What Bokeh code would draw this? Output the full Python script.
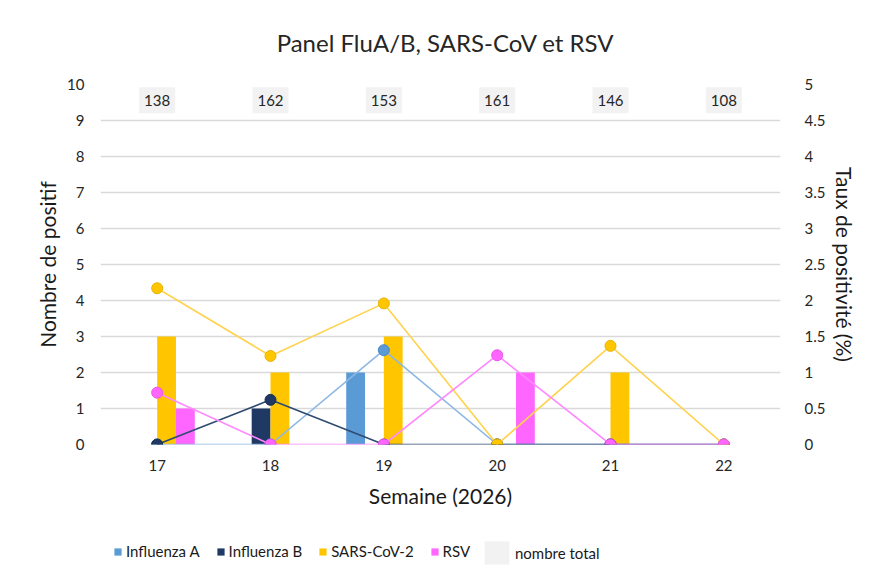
from bokeh.plotting import figure
from bokeh.layouts import column
from bokeh.models import (Range1d, LinearAxis, FixedTicker, ColumnDataSource, Legend,
                          LegendItem, CustomJSTickFormatter, Label)
from bokeh.transform import dodge
from bokeh.core.properties import value
from bokeh.embed import file_html
from bokeh.resources import INLINE

# ---- data ----
weeks = [17, 18, 19, 20, 21, 22]
flu_a = [0, 0, 2, 0, 0, 0]
flu_b = [0, 1, 0, 0, 0, 0]
sars = [3, 2, 3, 0, 2, 0]
rsv = [1, 0, 0, 2, 0, 0]
totals = [138, 162, 153, 161, 146, 108]
rate_flu_a = [0, 0, 1.31, 0, 0, 0]
rate_flu_b = [0, 0.62, 0, 0, 0, 0]
rate_sars = [2.17, 1.23, 1.96, 0, 1.37, 0]
rate_rsv = [0.72, 0, 0, 1.24, 0, 0]
left_ticks = [0, 1, 2, 3, 4, 5, 6, 7, 8, 9, 10]
right_ticks = [0, 0.5, 1, 1.5, 2, 2.5, 3, 3.5, 4, 4.5, 5]
series_names = ["Influenza A", "Influenza B", "SARS-CoV-2", "RSV"]
total_label = "nombre total"
title_text = "Panel FluA/B, SARS-CoV et RSV"

FONT = "Lato"
C_FLUA = "#5B9BD5"
C_FLUB = "#1F3864"
C_SARS = "#FFC600"
C_RSV = "#FF66FF"
TXT = "#262626"

src = ColumnDataSource(dict(
    week=weeks, flu_a=flu_a, flu_b=flu_b, sars=sars, rsv=rsv,
    total=[str(t) for t in totals], total_y=[9.56] * len(weeks),
    r_a=rate_flu_a, r_b=rate_flu_b, r_s=rate_sars, r_r=rate_rsv,
))

W = 860
H_TITLE = 60
H_MAIN = 452
H_LEG = 60


def strip(height):
    f = figure(width=W, height=height, output_backend="svg", toolbar_location=None,
               x_range=Range1d(0, 1), y_range=Range1d(0, 1),
               x_axis_location=None, y_axis_location=None)
    f.min_border = 0
    f.min_border_left = 0
    f.min_border_right = 0
    f.min_border_top = 0
    f.min_border_bottom = 0
    f.outline_line_color = None
    f.xgrid.grid_line_color = None
    f.ygrid.grid_line_color = None
    f.background_fill_color = "white"
    f.border_fill_color = "white"
    return f


# ---- title strip ----
tt = strip(H_TITLE)
tt.add_layout(Label(x=0.5, y=0.3, text=title_text, text_align="center",
                    text_baseline="middle", x_offset=5, text_font=FONT,
                    text_font_size="24px", text_color=TXT))

# ---- main chart ----
p = figure(width=W, height=H_MAIN, output_backend="svg", toolbar_location=None,
           x_range=Range1d(16.5, 22.5), y_range=Range1d(0, 10))
p.extra_y_ranges = {"rate": Range1d(0, 5)}

p.min_border_left = 100
p.min_border_right = W - 787
p.min_border_top = 84 - H_TITLE
p.min_border_bottom = H_MAIN - (444 - H_TITLE)
p.outline_line_color = None
p.background_fill_color = "white"
p.border_fill_color = "white"

# grids
p.xgrid.grid_line_color = None
p.ygrid.grid_line_color = "#D9D9D9"
p.ygrid.grid_line_width = 1.5
p.ygrid.ticker = FixedTicker(ticks=left_ticks)


def style_axis(ax, label, tick_standoff, label_standoff):
    ax.axis_line_color = None
    ax.major_tick_line_color = None
    ax.minor_tick_line_color = None
    ax.major_label_standoff = tick_standoff
    ax.major_label_text_font = FONT
    ax.major_label_text_font_size = "15px"
    ax.major_label_text_color = TXT
    ax.axis_label = label
    ax.axis_label_text_font = FONT
    ax.axis_label_text_font_size = "21px"
    ax.axis_label_text_font_style = "normal"
    ax.axis_label_text_color = "#1a1a1a"
    ax.axis_label_standoff = label_standoff


xa = p.xaxis[0]
xa.ticker = FixedTicker(ticks=weeks)
style_axis(xa, "Semaine (2026)", 9, 9)

ya = p.yaxis[0]
ya.ticker = FixedTicker(ticks=left_ticks)
style_axis(ya, "Nombre de positif", 10, 4)

ra = LinearAxis(y_range_name="rate", ticker=FixedTicker(ticks=right_ticks),
                formatter=CustomJSTickFormatter(code="return tick.toString();"))
style_axis(ra, "Taux de positivité (%)", 18, 4)
p.add_layout(ra, "right")

# bars
bw = 0.166
offsets = [-0.249, -0.083, 0.083, 0.249]
cols = ["flu_a", "flu_b", "sars", "rsv"]
colors = [C_FLUA, C_FLUB, C_SARS, C_RSV]
for off, col, c in zip(offsets, cols, colors):
    p.vbar(x=dodge("week", off, range=p.x_range), top=col, width=bw, source=src,
           fill_color=c, line_color=None)

# rate lines
for col, lc, fc, oc in [("r_a", "#8DB8E4", C_FLUA, "#4A86C0"),
                        ("r_b", "#2F4B70", C_FLUB, "#1A2F50"),
                        ("r_s", "#FFD24D", C_SARS, "#E8B400"),
                        ("r_r", "#FF88FF", C_RSV, "#E855E8")]:
    p.line("week", col, source=src, y_range_name="rate", line_color=lc, line_width=1.6)
    p.scatter("week", col, source=src, y_range_name="rate", size=11,
              fill_color=fc, line_color=oc, line_width=1)

# totals boxes
p.rect(x="week", y="total_y", width=36, height=26, width_units="screen",
       height_units="screen", source=src, fill_color="#F2F2F2", line_color=None)
p.text(x="week", y="total_y", text="total", source=src, text_align="center",
       text_baseline="middle", text_font=value(FONT), text_font_size="15px",
       text_color=TXT)

# ---- legend strip ----
lg = strip(H_LEG)
lg.x_range = Range1d(-1000, -999)
lg.y_range = Range1d(-1000, -999)
leg_renderers = [lg.vbar(x="week", top=col, width=bw, source=src, fill_color=c,
                         line_color=None, visible=False)
                 for col, c in zip(cols, colors)]
tot_r = lg.vbar(x="week", top="total_y", width=bw, source=src, fill_color="#F2F2F2",
                line_color=None, visible=False)

leg1 = Legend(items=[LegendItem(label=n, renderers=[r]) for n, r in zip(series_names, leg_renderers)],
              orientation="horizontal", location=(13, 12),
              glyph_width=9, glyph_height=9, label_standoff=4, spacing=16,
              label_height=18, padding=0, margin=0, inactive_fill_alpha=0,
              border_line_color=None, background_fill_alpha=0,
              label_text_font=FONT, label_text_font_size="15px", label_text_color="#1a1a1a")
leg2 = Legend(items=[LegendItem(label=total_label, renderers=[tot_r])],
              orientation="horizontal", location=(381, 5),
              glyph_width=31, glyph_height=29, label_standoff=3, spacing=0,
              label_height=29, padding=0, margin=0, inactive_fill_alpha=0,
              border_line_color=None, background_fill_alpha=0,
              label_text_font=FONT, label_text_font_size="15px", label_text_color="#1a1a1a")
lg.add_layout(leg1, "center")
lg.add_layout(leg2, "center")

layout = column(tt, p, lg, spacing=0)
open("out.html", "w").write(file_html(layout, INLINE))
